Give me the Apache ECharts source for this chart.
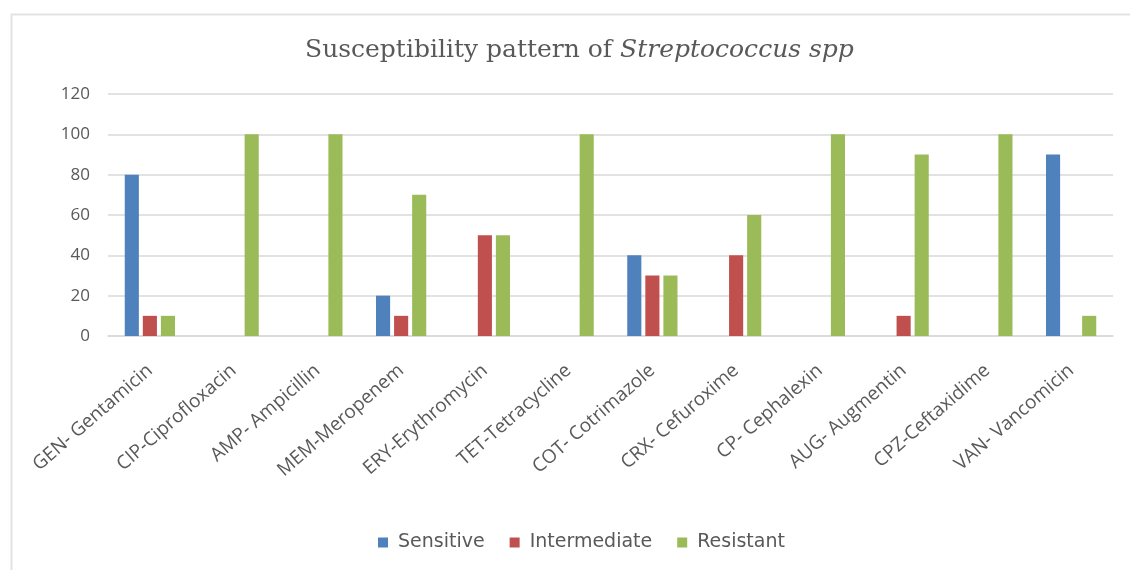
<!DOCTYPE html>
<html>
<head>
<meta charset="utf-8">
<script src="https://cdn.jsdelivr.net/npm/echarts@6/dist/echarts.min.js"></script>
<style>
    html, body { margin: 0; padding: 0; background: #fff; }
    #chart { width: 1130px; height: 570px; }
</style>
</head>
<body>
<div id="chart"></div>
<script>
    // 数据
    const drugs = ['GEN- Gentamicin', 'CIP-Ciprofloxacin', 'AMP- Ampicillin', 'MEM-Meropenem',
        'ERY-Erythromycin', 'TET-Tetracycline', 'COT- Cotrimazole', 'CRX- Cefuroxime',
        'CP- Cephalexin', 'AUG- Augmentin', 'CPZ-Ceftaxidime', 'VAN- Vancomicin'];
    const sensitive    = [80, 0, 0, 20, 0, 0, 40, 0, 0, 0, 0, 90];
    const intermediate = [10, 0, 0, 10, 50, 0, 30, 40, 0, 10, 0, 0];
    const resistant    = [10, 100, 100, 70, 50, 100, 30, 60, 100, 90, 100, 10];

    const chart = echarts.init(document.getElementById('chart'));

    function bar(name, data, color) {
        return {
            name: name,
            type: 'bar',
            data: data,
            barGap: '28%',
            barCategoryGap: '40%',
            itemStyle: { color: color }
        };
    }

    chart.setOption({
        animation: false,
        graphic: [{
            type: 'rect',
            left: 9, top: 12,
            shape: { width: 1200, height: 620 },
            style: { fill: 'none', stroke: '#e3e3e3', lineWidth: 2 },
            silent: true
        }],
        title: {
            text: 'Susceptibility pattern of {i|Streptococcus spp}',
            left: 300,
            top: 33,
            textStyle: {
                fontFamily: 'DejaVu Serif',
                fontSize: 25,
                fontWeight: 'normal',
                color: '#595959',
                rich: {
                    i: { fontFamily: 'DejaVu Serif', fontStyle: 'italic', fontSize: 25, color: '#595959' }
                }
            }
        },
        legend: {
            bottom: 13,
            left: 373,
            itemWidth: 10,
            itemHeight: 10,
            itemGap: 25,
            icon: 'rect',
            textStyle: { fontFamily: 'DejaVu Sans', fontSize: 19, color: '#595959', padding: [0, 0, 0, 5] }
        },
        grid: { left: 108, right: 17, top: 94, bottom: 234 },
        xAxis: {
            type: 'category',
            data: drugs,
            axisLine: { lineStyle: { color: '#d9d9d9', width: 1.5 } },
            axisTick: { show: false },
            axisLabel: {
                rotate: 41,
                interval: 0,
                margin: 32,
                fontFamily: 'Open Sans',
                fontSize: 19,
                color: '#595959'
            }
        },
        yAxis: {
            type: 'value',
            min: 0,
            max: 120,
            interval: 20,
            axisLine: { show: false },
            axisTick: { show: false },
            axisLabel: { fontFamily: 'Open Sans', fontSize: 17, color: '#595959', margin: 18 },
            splitLine: { lineStyle: { color: '#d9d9d9', width: 1.5 } }
        },
        series: [
            bar('Sensitive', sensitive, '#4f81bd'),
            bar('Intermediate', intermediate, '#c0504d'),
            bar('Resistant', resistant, '#9bbb59')
        ]
    });
</script>
</body>
</html>
